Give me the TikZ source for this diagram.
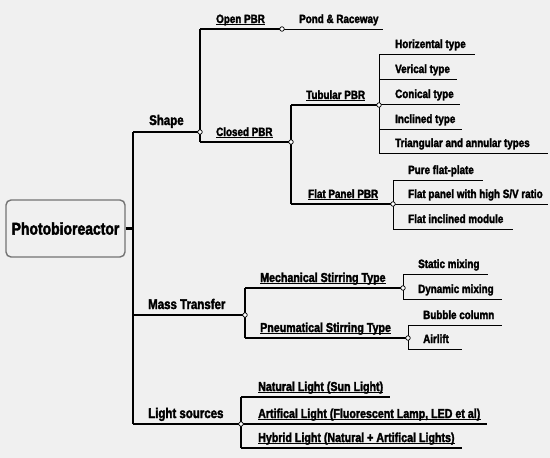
\documentclass[tikz,border=0pt]{standalone}
\usepackage{fontspec}
\setmainfont{Liberation Sans}[FakeStretch=0.82, BoldFeatures={FakeBold=2.2}]
\begin{document}
\begin{tikzpicture}[x=1pt,y=-1pt,
  lbl/.style={anchor=base west, inner sep=0pt, font=\fontsize{12}{14}\selectfont\bfseries},
  mid/.style={lbl, font=\fontsize{13}{15}\selectfont\bfseries},
  big/.style={lbl, font=\fontsize{14}{16}\selectfont\bfseries},
  ul/.style={append after command={([yshift=-1.8pt]\tikzlastnode.base west) edge[line width=0.9pt] ([yshift=-1.8pt]\tikzlastnode.base east)}},
  junc/.style={circle, draw, fill=white, inner sep=0pt, minimum size=4.5pt, line width=0.7pt},
  thk/.style={line width=2.2pt},
  med/.style={line width=1.4pt},
  thn/.style={line width=0.9pt}]
\useasboundingbox[fill=black!6] (0,0) rectangle (550,458);

% root
\node[draw=black!55, line width=1.4pt, rounded corners=5pt, minimum width=119pt, minimum height=57pt,
  font=\fontsize{17}{19}\selectfont\bfseries] (root) at (65.5,228.5) {Photobioreactor};
\coordinate (vt) at (133,132);
\coordinate (vm) at (133,315);
\coordinate (vb) at (133,424);
\coordinate (vr) at (133,228.5);
\draw[thk] (root.east) -- (vr);
\draw[thk] (vt) -- (vb);

% level 1
\coordinate (jShape) at (200,132);
\coordinate (jMass) at (245,315);
\coordinate (jLight) at (241,424);
\draw[thk] (vt) -- (jShape);
\draw[thk] (vm) -- (jMass);
\draw[thk] (vb) -- (jLight);
\node[big] (shape) at (149,125) {Shape};
\node[big] (mass) at (148,309) {Mass Transfer};
\node[big] (light) at (148,418) {Light sources};

% shape
\coordinate (sT) at (200,29);
\coordinate (sB) at (200,142);
\draw[thk] (sT) -- (sB);
\coordinate (jOpen) at (282,29);
\coordinate (pondE) at (383,29);
\draw[med] (sT) -- (jOpen);
\draw[thn] (jOpen) -- (pondE);
\node[lbl,ul] (open) at (216,23) {Open PBR};
\node[lbl] (pond) at (299,23) {Pond \& Raceway};
\coordinate (jClosed) at (291,142);
\draw[med] (sB) -- (jClosed);
\node[lbl,ul] (closed) at (216,136) {Closed PBR};
\coordinate (cT) at (291,105);
\coordinate (cB) at (291,204);
\draw[med] (cT) -- (cB);
\coordinate (jTub) at (379,105);
\draw[med] (cT) -- (jTub);
\node[lbl,ul] (tub) at (306,99) {Tubular PBR};
\coordinate (jFlat) at (393,204);
\draw[med] (cB) -- (jFlat);
\node[lbl,ul] (flat) at (308,198) {Flat Panel PBR};

\foreach \y/\e/\t [count=\i] in {54/475/{Horizental type}, 79/457/{Verical type}, 104/460/{Conical type}, 129/462/{Inclined type}, 153/548/{Triangular and annular types}} {
  \coordinate (tl\i) at (379,\y);
  \coordinate (te\i) at (\e,\y);
  \draw[thn] (tl\i) -- (te\i);
  \node[lbl] (tt\i) at (395,\y-6) {\t};
}
\draw[thn] (tl1) -- (tl5);

\foreach \y/\e/\t [count=\i] in {180/483/{Pure flat-plate}, 204/548/{Flat panel with high S/V ratio}, 229/513/{Flat inclined module}} {
  \coordinate (fl\i) at (393,\y);
  \coordinate (fe\i) at (\e,\y);
  \draw[thn] (fl\i) -- (fe\i);
  \node[lbl] (ft\i) at (408,\y-6) {\t};
}
\draw[thn] (fl1) -- (fl3);

% mass transfer
\coordinate (mT) at (245,288);
\coordinate (mB) at (245,338);
\draw[thk] (mT) -- (mB);
\coordinate (jMech) at (403,288);
\draw[med] (mT) -- (jMech);
\node[mid,ul] (mech) at (260,282) {Mechanical Stirring Type};
\coordinate (jPneu) at (408,338);
\draw[med] (mB) -- (jPneu);
\node[mid,ul] (pneu) at (260,332) {Pneumatical Stirring Type};

\foreach \y/\e/\t [count=\i] in {274/488/{Static mixing}, 299/502/{Dynamic mixing}} {
  \coordinate (ml\i) at (403,\y);
  \coordinate (me\i) at (\e,\y);
  \draw[thn] (ml\i) -- (me\i);
  \node[lbl] (mt\i) at (418,\y-6) {\t};
}
\draw[thn] (ml1) -- (ml2);
\foreach \y/\e/\t [count=\i] in {325/502/{Bubble column}, 349/462/{Airlift}} {
  \coordinate (pl\i) at (408,\y);
  \coordinate (pe\i) at (\e,\y);
  \draw[thn] (pl\i) -- (pe\i);
  \node[lbl] (pt\i) at (423,\y-6) {\t};
}
\draw[thn] (pl1) -- (pl2);

% light sources
\foreach \y/\e/\t [count=\i] in {397/390/{Natural Light (Sun Light)}, 424/487/{Artifical Light (Fluorescent Lamp, LED et al)}, 448/462/{Hybrid Light (Natural + Artifical Lights)}} {
  \coordinate (ll\i) at (241,\y);
  \coordinate (le\i) at (\e,\y);
  \draw[med] (ll\i) -- (le\i);
  \node[mid,ul] (lt\i) at (258,\y-6) {\t};
}
\draw[med] (ll1) -- (ll3);

% junction dots
\foreach \n in {jShape,jOpen,jClosed,jTub,jFlat,jMass,jMech,jPneu,jLight}
  \node[junc] (d\n) at (\n) {};
\end{tikzpicture}
\end{document}
